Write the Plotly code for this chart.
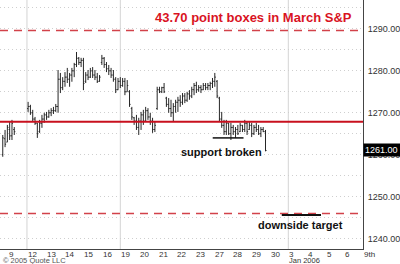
import plotly.graph_objects as go

# ---------------- data ----------------
day_labels = ["9", "12", "13", "14", "15", "16", "19", "20", "21", "22", "23",
              "27", "28", "29", "30", "3", "4", "5", "6", "9th"]
price_ticks = [1240, 1245, 1250, 1255, 1260, 1265, 1270, 1275, 1280, 1285, 1290, 1295]

# first few bars (Dec 9)
pre_open = [1260.0, 1263.8, 1263.0, 1266.0, 1264.5, 1266.0]
pre_high = [1264.7, 1265.9, 1267.1, 1267.8, 1268.3, 1266.6]
pre_low = [1259.5, 1261.8, 1263.0, 1263.5, 1263.5, 1264.7]
pre_close = [1264.0, 1262.5, 1266.5, 1264.5, 1267.5, 1265.5]

# main bars (Dec 12 .. Dec 30)
bar_open = [
    1271.0, 1271.5, 1270.0, 1268.5, 1267.5, 1265.5, 1267.5, 1268.5, 1269.5, 1269.0,
    1270.0, 1270.5, 1270.5, 1271.5, 1278.0, 1276.0, 1277.5, 1278.5, 1278.0, 1279.0,
    1280.0, 1281.5, 1283.0, 1282.0, 1282.5, 1277.5, 1279.0, 1278.5, 1280.0, 1279.0,
    1278.5, 1277.5, 1282.0, 1283.0, 1281.5, 1280.5, 1280.0, 1279.0, 1278.0, 1275.5,
    1277.5, 1276.5, 1277.5, 1275.0, 1275.0, 1271.0, 1268.8, 1268.0, 1266.5, 1268.0,
    1269.5, 1268.0, 1270.5, 1269.0, 1268.0, 1266.0, 1271.0, 1275.5, 1275.0, 1276.0,
    1273.5, 1272.0, 1271.0, 1270.0, 1271.5, 1272.5, 1273.0, 1272.5, 1274.0, 1273.0,
    1274.5, 1274.0, 1275.5, 1276.5, 1275.5, 1276.0, 1275.5, 1276.5, 1276.0, 1276.5,
    1277.0, 1277.5, 1277.5, 1273.5, 1268.5, 1267.0, 1265.5, 1267.5, 1265.0, 1266.5,
    1265.5, 1266.0, 1265.5, 1267.0, 1266.0, 1267.5, 1266.0, 1267.0, 1265.0, 1266.5,
    1266.0, 1265.0, 1266.0, 1265.5]
bar_high = [
    1272.6, 1271.9, 1270.7, 1269.0, 1267.6, 1268.3, 1269.5, 1270.0, 1270.2, 1270.7,
    1271.1, 1271.4, 1272.1, 1280.2, 1279.5, 1278.5, 1279.7, 1280.7, 1279.5, 1280.7,
    1281.9, 1284.5, 1283.3, 1283.1, 1283.1, 1279.7, 1280.2, 1280.7, 1280.9, 1280.2,
    1279.5, 1279.0, 1283.8, 1283.3, 1282.1, 1281.4, 1280.7, 1280.2, 1278.5, 1278.3,
    1278.5, 1278.3, 1278.3, 1277.8, 1275.4, 1271.4, 1269.0, 1269.5, 1268.8, 1270.2,
    1270.7, 1271.4, 1271.1, 1270.0, 1268.8, 1267.8, 1276.2, 1276.2, 1276.2, 1277.1,
    1273.8, 1273.5, 1273.1, 1272.3, 1273.1, 1273.8, 1274.2, 1274.7, 1274.7, 1275.0,
    1275.4, 1276.2, 1277.1, 1277.4, 1276.6, 1276.6, 1277.1, 1277.1, 1277.1, 1277.4,
    1278.3, 1279.5, 1277.8, 1273.8, 1270.2, 1268.3, 1268.3, 1267.6, 1267.6, 1267.1,
    1266.6, 1267.1, 1267.6, 1267.1, 1268.3, 1267.8, 1267.8, 1267.6, 1267.1, 1267.6,
    1267.1, 1266.6, 1266.6, 1265.9]
bar_low = [
    1270.2, 1269.5, 1267.8, 1267.1, 1264.0, 1265.2, 1266.4, 1267.6, 1268.3, 1268.8,
    1269.2, 1269.7, 1270.2, 1270.0, 1274.7, 1275.4, 1276.2, 1277.1, 1276.2, 1277.4,
    1278.5, 1280.9, 1281.4, 1280.9, 1275.4, 1277.1, 1277.8, 1278.3, 1278.3, 1277.8,
    1277.1, 1277.4, 1281.4, 1280.7, 1279.7, 1279.0, 1278.3, 1277.4, 1274.7, 1275.4,
    1275.9, 1276.2, 1274.2, 1275.0, 1271.4, 1268.3, 1267.1, 1265.9, 1264.7, 1265.9,
    1267.1, 1267.8, 1268.3, 1267.1, 1265.2, 1265.4, 1270.7, 1274.7, 1274.7, 1274.7,
    1271.4, 1270.0, 1269.0, 1267.8, 1270.0, 1270.2, 1271.4, 1271.9, 1272.3, 1272.6,
    1273.1, 1273.5, 1274.2, 1274.7, 1275.0, 1274.7, 1275.4, 1275.4, 1275.4, 1275.4,
    1275.9, 1276.2, 1273.5, 1267.8, 1266.4, 1264.7, 1264.7, 1264.7, 1263.5, 1264.7,
    1264.0, 1264.7, 1265.4, 1265.4, 1265.4, 1264.7, 1265.9, 1264.2, 1264.7, 1265.4,
    1264.7, 1264.2, 1265.4, 1260.8]
bar_close = [
    1271.5, 1270.0, 1268.5, 1267.5, 1265.0, 1267.5, 1268.5, 1269.5, 1269.0, 1270.0,
    1270.5, 1270.5, 1271.5, 1278.0, 1276.0, 1277.5, 1278.5, 1278.0, 1279.0, 1280.0,
    1281.5, 1283.0, 1282.0, 1282.5, 1277.0, 1279.0, 1278.5, 1280.0, 1279.0, 1278.5,
    1277.5, 1278.5, 1283.0, 1281.5, 1280.5, 1280.0, 1279.0, 1278.0, 1275.5, 1277.5,
    1276.5, 1277.5, 1275.0, 1276.5, 1272.0, 1269.0, 1268.0, 1266.5, 1268.0, 1269.5,
    1268.0, 1270.5, 1269.0, 1268.0, 1266.0, 1267.0, 1275.5, 1275.0, 1276.0, 1275.0,
    1272.0, 1271.0, 1270.0, 1271.5, 1272.5, 1273.0, 1272.5, 1274.0, 1273.0, 1274.5,
    1274.0, 1275.5, 1276.5, 1275.5, 1276.0, 1275.5, 1276.5, 1276.0, 1276.5, 1277.0,
    1277.5, 1278.5, 1274.0, 1268.5, 1267.0, 1265.5, 1267.5, 1265.0, 1266.5, 1265.5,
    1266.0, 1265.0, 1267.0, 1266.0, 1267.5, 1265.5, 1267.0, 1265.0, 1266.5, 1266.0,
    1265.0, 1266.0, 1265.5, 1261.0]

box_top = 1289.65
box_bottom = 1245.95
support_level = 1267.85
support_low = 1264.0
target_level = 1245.6
last_price = 1261.00

# ---------------- layout helpers ----------------
BARS_PER_DAY = 8.1
pre_x = [1 + (k + 0.5) / BARS_PER_DAY for k in range(-11, -11 + len(pre_high))]
bar_x = [1 + (k + 0.5) / BARS_PER_DAY for k in range(len(bar_high))]

xs = pre_x + bar_x
opens = pre_open + bar_open
highs = pre_high + bar_high
lows = pre_low + bar_low
closes = pre_close + bar_close

FONT = "Liberation Sans, Arial"

fig = go.Figure()
fig.add_trace(go.Ohlc(
    x=xs, open=opens, high=highs, low=lows, close=closes,
    increasing=dict(line=dict(color="#262626", width=1)),
    decreasing=dict(line=dict(color="#262626", width=1)),
    tickwidth=0.45, hoverinfo="skip", showlegend=False,
))

shapes = []
# weekly vertical grid lines
for d in [1, 6, 15]:
    shapes.append(dict(type="line", xref="x", yref="paper", x0=d, x1=d, y0=0, y1=1,
                       line=dict(color="#d4d4d4", width=1), layer="below"))
# box lines
for lvl in [box_top, box_bottom]:
    shapes.append(dict(type="line", xref="paper", yref="y", x0=0, x1=1, y0=lvl, y1=lvl,
                       line=dict(color="#d2424a", width=1.5, dash="8px,6px")))
shapes.append(dict(type="line", xref="paper", yref="y", x0=0, x1=1,
                   y0=support_level, y1=support_level,
                   line=dict(color="#c8101e", width=2)))
# support and target markers
shapes.append(dict(type="line", xref="x", yref="y", x0=10.95, x1=12.6,
                   y0=support_low, y1=support_low, line=dict(color="#111", width=1.5)))
shapes.append(dict(type="line", xref="x", yref="y", x0=14.65, x1=16.75,
                   y0=target_level, y1=target_level, line=dict(color="#111", width=2)))

annotations = []
for i, lab in enumerate(day_labels):
    annotations.append(dict(x=i, y=-0.023, xref="x", yref="paper", text=lab,
                            showarrow=False, xanchor="left", yanchor="middle",
                            xshift=-1,
                            font=dict(family=FONT, size=8, color="#333")))
annotations.append(dict(x=15, y=-0.046, xref="x", yref="paper", text="Jan 2006",
                        showarrow=False, xanchor="left", yanchor="middle", xshift=-1,
                        font=dict(family=FONT, size=7.5, color="#333")))
annotations.append(dict(x=0, y=-0.046, xref="paper", yref="paper", text="© 2005 Quote LLC",
                        showarrow=False, xanchor="left", yanchor="middle", xshift=1,
                        font=dict(family=FONT, size=7.5, color="#555")))
annotations.append(dict(x=0.697, y=0.928, xref="paper", yref="paper",
                        text="<b>43.70 point boxes in March S&P</b>", showarrow=False,
                        xanchor="center", yanchor="middle",
                        font=dict(family=FONT, size=13, color="#d9131f")))
annotations.append(dict(x=11.43, y=1260.6, xref="x", yref="y", text="<b>support broken</b>",
                        showarrow=False, xanchor="center", yanchor="middle",
                        font=dict(family=FONT, size=11, color="#111")))
annotations.append(dict(x=15.65, y=1243.3, xref="x", yref="y", text="<b>downside target</b>",
                        showarrow=False, xanchor="center", yanchor="middle",
                        font=dict(family=FONT, size=11, color="#111")))
annotations.append(dict(x=1, y=last_price, xref="paper", yref="y", text=f"{last_price:.2f}",
                        showarrow=False, xanchor="left", yanchor="middle",
                        bgcolor="#000", borderpad=1, width=35, align="left",
                        font=dict(family=FONT, size=9, color="#fff")))

fig.update_layout(
    width=400, height=264,
    margin=dict(l=0, r=37, t=0, b=15),
    paper_bgcolor="white", plot_bgcolor="white",
    shapes=shapes, annotations=annotations,
    xaxis=dict(range=[-0.444, 19.0], showgrid=False, zeroline=False,
               showticklabels=False, showline=True, linecolor="#444", linewidth=1,
               rangeslider=dict(visible=False), fixedrange=True),
    yaxis=dict(range=[1237.5, 1296.9], side="right",
               tickvals=price_ticks,
               ticktext=[f"{v:.2f}" if v % 10 == 0 and v < 1295 else "" for v in price_ticks],
               showgrid=True, gridcolor="#cfcfcf", griddash="1px,3px", gridwidth=1,
               zeroline=False, showline=True, linecolor="#444", linewidth=1,
               ticks="", ticklabelstandoff=2,
               tickfont=dict(family=FONT, size=9, color="#333"),
               fixedrange=True),
    showlegend=False,
)

fig.write_html("out.html")
